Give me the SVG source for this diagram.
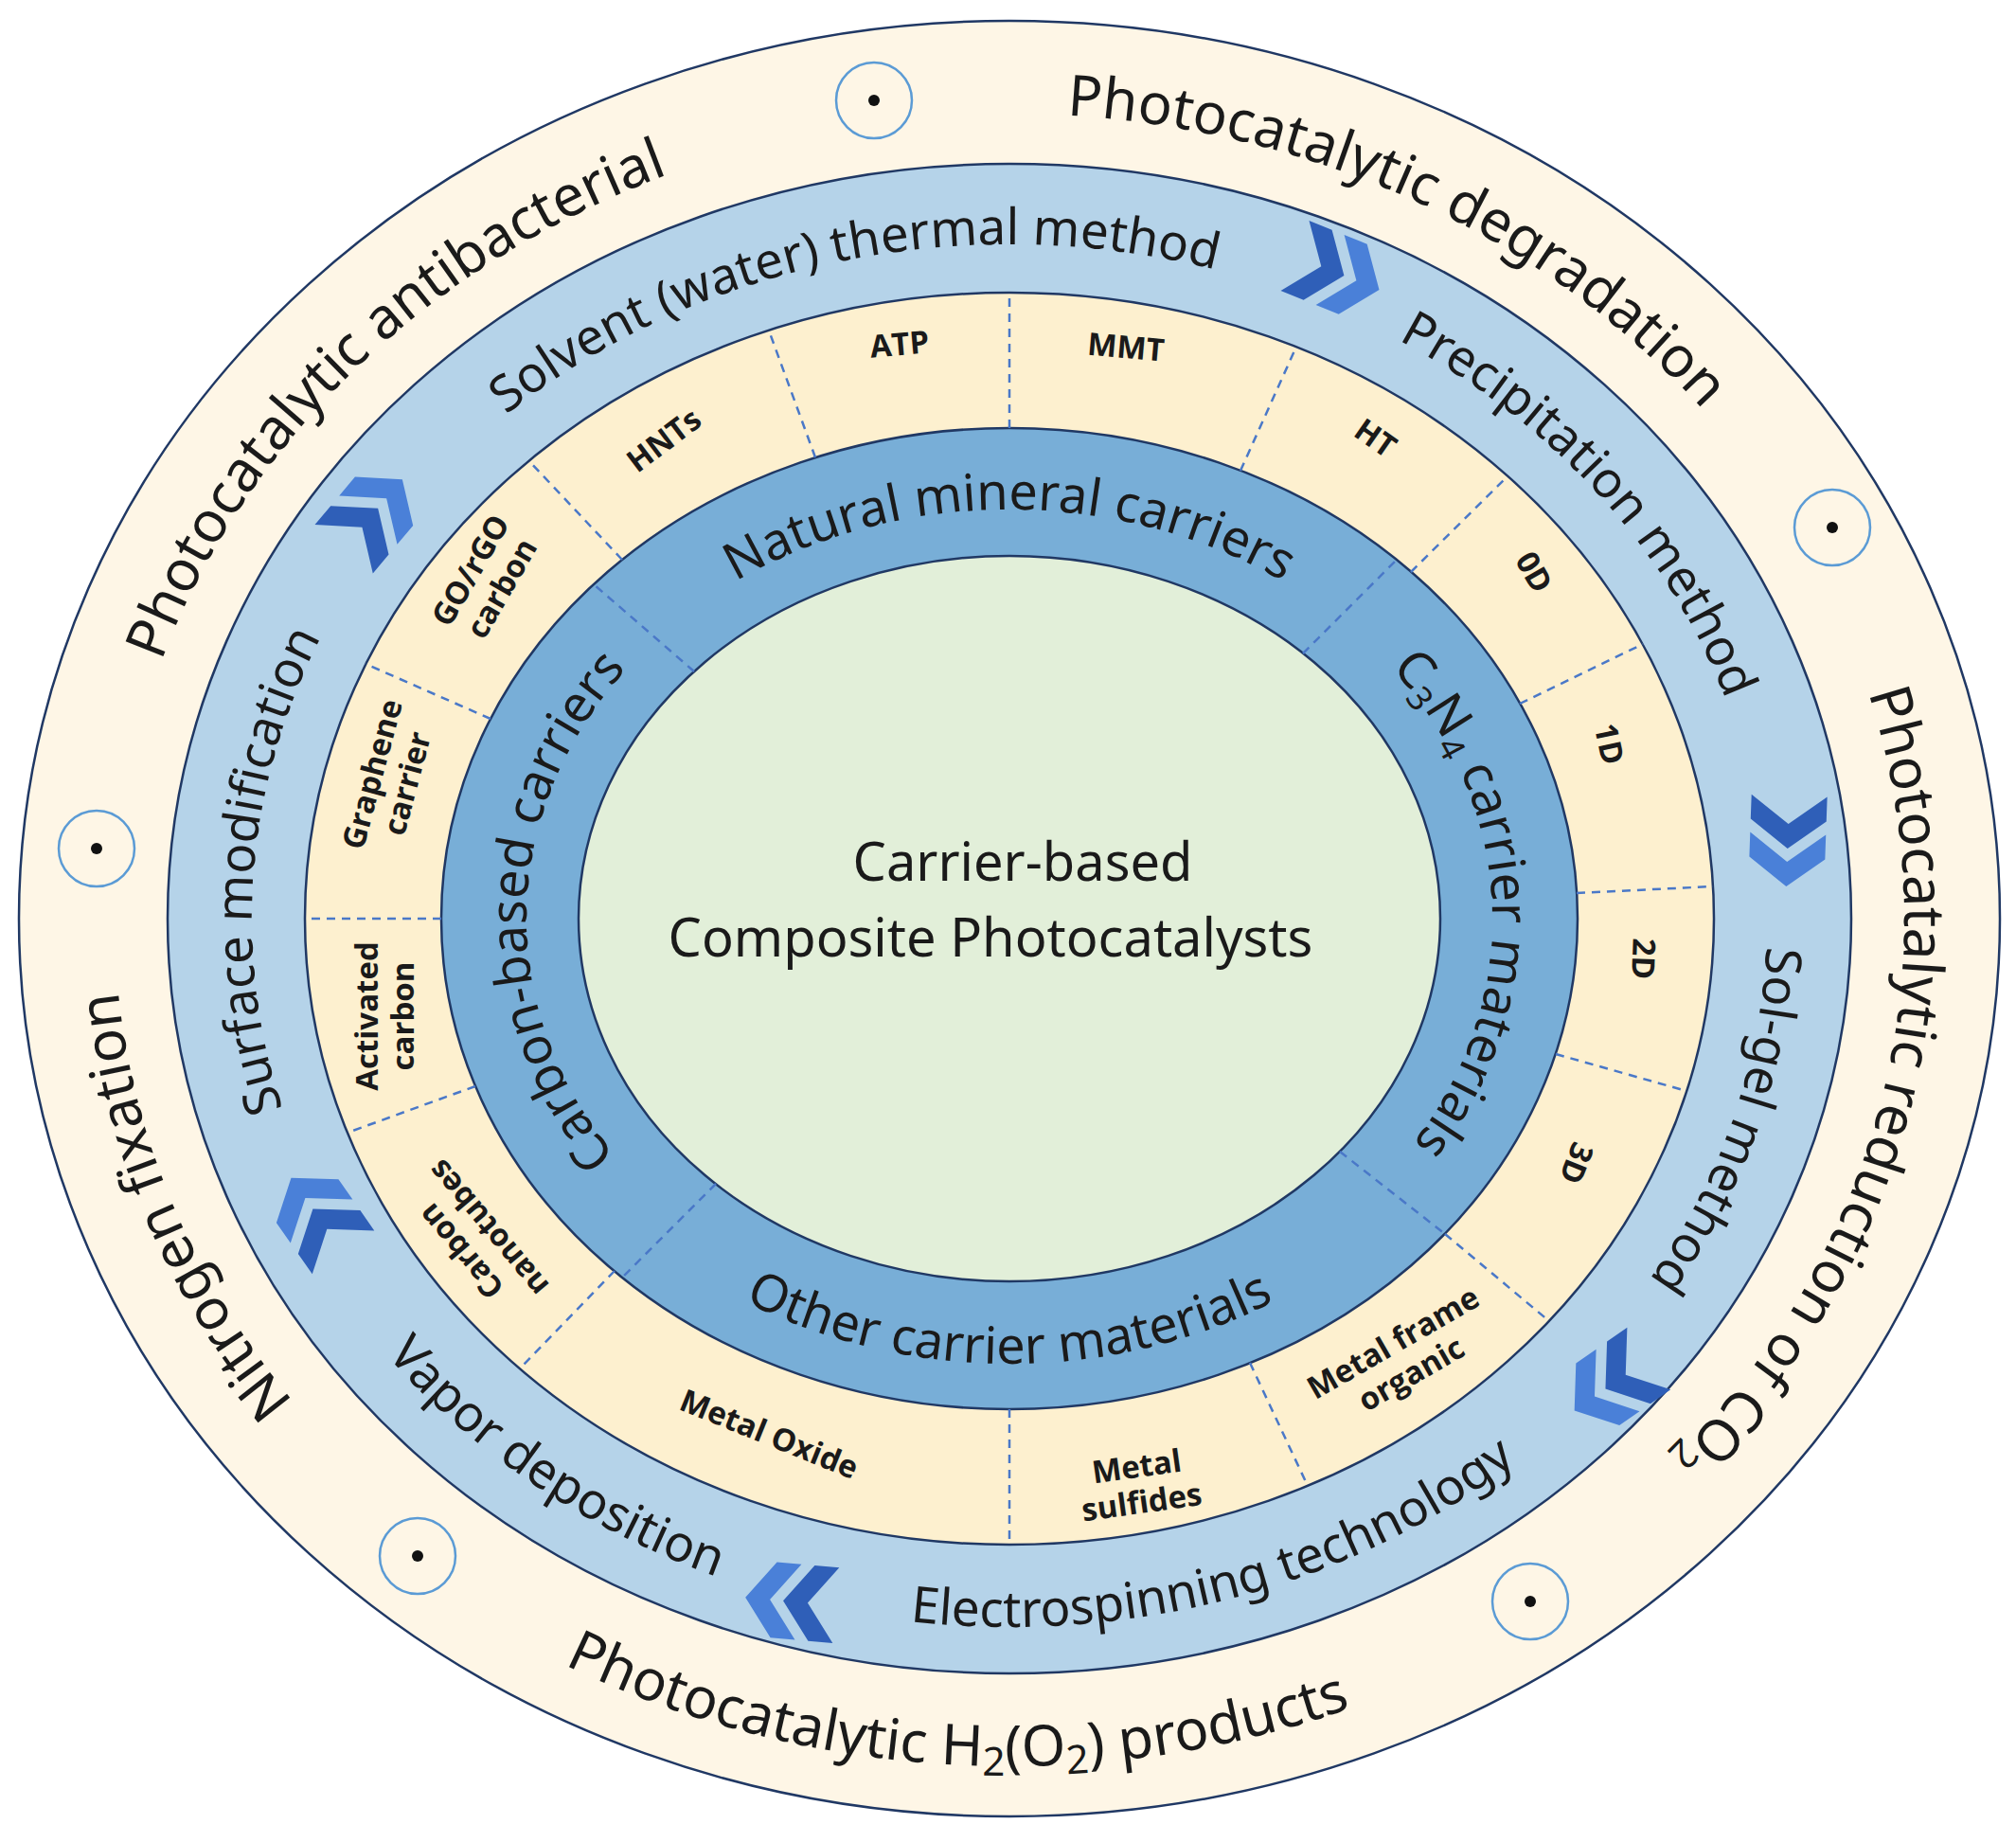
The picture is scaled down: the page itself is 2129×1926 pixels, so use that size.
<svg xmlns="http://www.w3.org/2000/svg" width="2129" height="1926" viewBox="0 0 2129 1926">
<style>
.ring{stroke:#203864;stroke-width:2.5}
.dv{stroke:#4a78c8;stroke-width:2.5;stroke-dasharray:9 7;fill:none}
.t{font-family:"Noto Sans","Open Sans",sans-serif;fill:#1a1a1a}
.o{font-size:60px}
.m{font-size:53px}
.d{font-size:54px}
.s{font-family:"Open Sans","Noto Sans",sans-serif;font-weight:bold;font-size:33px;fill:#1a1a1a;text-anchor:middle}
.mk{fill:none;stroke:#5b9bd5;stroke-width:2.5}
</style>
<defs>
<path id="ocw" d="M1066,1820 A945 850 0 1 1 1066,120 A945 850 0 1 1 1066,1820"/>
<path id="occw" d="M76,970 A990 895 0 1 0 2056,970 A990 895 0 1 0 76,970"/>
<path id="lcw" d="M1066,1682 A800 712 0 1 1 1066,258 A800 712 0 1 1 1066,1682"/>
<path id="lccw" d="M231,970 A835 748 0 1 0 1901,970 A835 748 0 1 0 231,970"/>
<path id="dcw" d="M1066,1402 A510 432 0 1 1 1066,538 A510 432 0 1 1 1066,1402"/>
<path id="dccw" d="M518,970 A548 470 0 1 0 1614,970 A548 470 0 1 0 518,970"/>
<g id="chev">
<path d="M-48,-40 L-22,-40 L8,0 L-22,40 L-48,40 L-18,0 Z" fill="#2f5fb8"/>
<path d="M-8,-40 L18,-40 L48,0 L18,40 L-8,40 L22,0 Z" fill="#4a80d8"/>
</g>
<g id="mark"><circle r="40" class="mk" fill="none"/><circle r="6" fill="#111"/></g>
</defs>
<rect width="2129" height="1926" fill="#fff"/>
<g id="rings">
<ellipse cx="1066" cy="970" rx="1046" ry="948" fill="#fef6e6" class="ring"/>
<ellipse cx="1066" cy="970" rx="889" ry="797" fill="#b5d3e9" class="ring"/>
<ellipse cx="1066" cy="970" rx="744" ry="661" fill="#fdf0cf" class="ring"/>
<ellipse cx="1066" cy="970" rx="600" ry="518" fill="#78aed7" class="ring"/>
<ellipse cx="1066" cy="970" rx="455" ry="383" fill="#e2efd9" class="ring"/>
</g>
<g id="connectors">
<line class="dv" x1="861" y1="483" x2="812" y2="349"/>
<line class="dv" x1="1066" y1="452" x2="1066" y2="309"/>
<line class="dv" x1="1310" y1="497" x2="1369" y2="366"/>
<line class="dv" x1="1490" y1="604" x2="1592" y2="503"/>
<line class="dv" x1="1605" y1="743" x2="1735" y2="680"/>
<line class="dv" x1="1665" y1="943" x2="1809" y2="936"/>
<line class="dv" x1="1643" y1="1113" x2="1781" y2="1152"/>
<line class="dv" x1="1526" y1="1303" x2="1636" y2="1395"/>
<line class="dv" x1="1320" y1="1439" x2="1381" y2="1569"/>
<line class="dv" x1="1066" y1="1488" x2="1066" y2="1631"/>
<line class="dv" x1="649" y1="1342" x2="549" y2="1445"/>
<line class="dv" x1="502" y1="1147" x2="367" y2="1196"/>
<line class="dv" x1="466" y1="970" x2="322" y2="970"/>
<line class="dv" x1="518" y1="759" x2="386" y2="701"/>
<line class="dv" x1="657" y1="591" x2="559" y2="487"/>
<line class="dv" x1="733" y1="709" x2="627" y2="617"/>
<line class="dv" x1="1376" y1="690" x2="1475" y2="591"/>
<line class="dv" x1="1415" y1="1216" x2="1526" y2="1303"/>
<line class="dv" x1="756" y1="1250" x2="657" y2="1349"/>
</g>
<g id="outer-labels" class="t o" text-anchor="middle">
<text><textPath href="#ocw" startOffset="36.7%">Photocatalytic antibacterial</textPath></text>
<text><textPath href="#ocw" startOffset="57.8%">Photocatalytic degradation</textPath></text>
<text><textPath href="#ocw" startOffset="78.5%">Photocatalytic reduction of CO<tspan font-size="42" dy="10">2</tspan></textPath></text>
<text><textPath href="#ocw" startOffset="19.4%">Nitrogen fixation</textPath></text>
<text><textPath href="#occw" startOffset="24%">Photocatalytic H<tspan font-size="42" dy="10">2</tspan><tspan dy="-10">(O</tspan><tspan font-size="42" dy="10">2</tspan><tspan dy="-10">) products</tspan></textPath></text>
</g>
<g id="method-labels" class="t m" text-anchor="middle">
<text><textPath href="#lcw" startOffset="26.1%">Surface modification</textPath></text>
<text><textPath href="#lcw" startOffset="46.3%">Solvent (water) thermal method</textPath></text>
<text><textPath href="#lcw" startOffset="64.5%">Precipitation method</textPath></text>
<text><textPath href="#lcw" startOffset="79.6%">Sol-gel method</textPath></text>
<text><textPath href="#lccw" startOffset="14.4%">Vapor deposition</textPath></text>
<text><textPath href="#lccw" startOffset="29.7%">Electrospinning technology</textPath></text>
</g>
<g id="carrier-labels" class="t d" text-anchor="middle">
<text><textPath href="#dcw" startOffset="25.3%">Carbon-based carriers</textPath></text>
<text><textPath href="#dcw" startOffset="50%">Natural mineral carriers</textPath></text>
<text><textPath href="#dcw" startOffset="74.4%">C<tspan font-size="36" dy="10">3</tspan><tspan dy="-10">N</tspan><tspan font-size="36" dy="10">4</tspan><tspan dy="-10"> carrier materials</tspan></textPath></text>
<text><textPath href="#dccw" startOffset="25%">Other carrier materials</textPath></text>
</g>
<g id="sub-labels">
<text class="s" transform="translate(951,375) rotate(-5)">ATP</text>
<text class="s" transform="translate(1188,378) rotate(5)">MMT</text>
<text class="s" transform="translate(708,474) rotate(-37)">HNTs</text>
<text class="s" transform="translate(1446,472) rotate(35)">HT</text>
<text class="s" transform="translate(1610,610) rotate(60)">0D</text>
<text class="s" transform="translate(1688,788) rotate(78)">1D</text>
<text class="s" transform="translate(1724,1012) rotate(92)">2D</text>
<text class="s" transform="translate(1654,1224) rotate(112)">3D</text>
<text class="s" transform="translate(1480,1433) rotate(-30)"><tspan x="0" dy="-6">Metal frame</tspan><tspan x="0" dy="38">organic</tspan></text>
<text class="s" transform="translate(1202,1560) rotate(-8)"><tspan x="0" dy="0">Metal</tspan><tspan x="0" dy="38">sulfides</tspan></text>
<text class="s" transform="translate(808,1525) rotate(22)">Metal Oxide</text>
<text class="s" transform="translate(500,1310) rotate(230)"><tspan x="0" dy="-6">Carbon</tspan><tspan x="0" dy="38">nanotubes</tspan></text>
<text class="s" transform="translate(405,1073) rotate(-90)"><tspan x="0" dy="-6">Activated</tspan><tspan x="0" dy="38">carbon</tspan></text>
<text class="s" transform="translate(410,822) rotate(-75)"><tspan x="0" dy="-6">Graphene</tspan><tspan x="0" dy="38">carrier</tspan></text>
<text class="s" transform="translate(512,611) rotate(-60)"><tspan x="0" dy="-6">GO/rGO</tspan><tspan x="0" dy="38">carbon</tspan></text>
</g>
<g id="center">
<text class="t" font-size="56" text-anchor="middle" x="1080" y="930" fill="#333">Carrier-based</text>
<text class="t" font-size="56" text-anchor="middle" x="1046" y="1010" fill="#333">Composite Photocatalysts</text>
</g>
<g id="chevrons">
<use href="#chev" transform="translate(394,543) rotate(-50)"/>
<use href="#chev" transform="translate(1412,288) rotate(22)"/>
<use href="#chev" transform="translate(1888,888) rotate(92)"/>
<use href="#chev" transform="translate(1702,1462) rotate(145)"/>
<use href="#chev" transform="translate(835,1691) rotate(185)"/>
<use href="#chev" transform="translate(335,1283) rotate(235)"/>
</g>
<g id="markers">
<use href="#mark" x="923" y="106"/>
<use href="#mark" x="1935" y="557"/>
<use href="#mark" x="102" y="896"/>
<use href="#mark" x="441" y="1643"/>
<use href="#mark" x="1616" y="1691"/>
</g>
</svg>
